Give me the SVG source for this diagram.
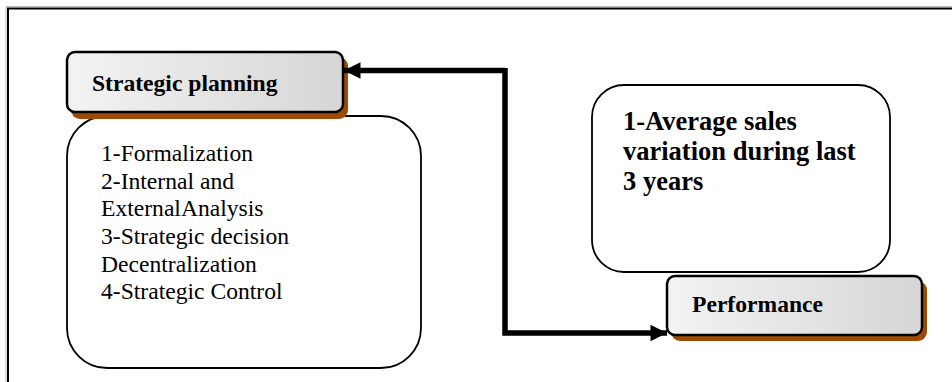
<svg xmlns="http://www.w3.org/2000/svg" width="952" height="382" viewBox="0 0 952 382">
<style>
.t{font-family:"Liberation Serif","Times New Roman",serif;fill:#000}
.b{font-weight:bold}
.box{fill:url(#g);stroke:#000;stroke-width:2.5}
.sh{fill:#9c4a06}
.tb{fill:#fff;stroke:#000;stroke-width:1.8}
.c{fill:none;stroke:#000;stroke-width:5.5}
</style>
<defs>
<linearGradient id="g" x1="0" y1="0" x2="1" y2="0">
<stop offset="0" stop-color="#f3f3f3"/>
<stop offset="1" stop-color="#d6d6d6"/>
</linearGradient>
<marker id="ah" viewBox="0 0 10 10" refX="10" refY="5" markerWidth="3.2" markerHeight="3" orient="auto" markerUnits="strokeWidth">
<path d="M0,0 L10,5 L0,10 z" fill="#000"/>
</marker>
</defs>
<rect width="952" height="382" fill="#fff"/>
<g id="frame">
<path d="M6,382 V6.5 H952" fill="none" stroke="#bbb" stroke-width="1"/>
<path d="M8,382 V8.5 H952" fill="none" stroke="#000" stroke-width="2"/>
</g>
<g id="list">
<rect class="tb" x="67" y="116" width="354" height="252" rx="40"/>
<text class="t" font-size="23.6" x="101" y="161">1-Formalization</text>
<text class="t" font-size="23.6" x="101" y="189">2-Internal and</text>
<text class="t" font-size="23.6" x="101" y="216">ExternalAnalysis</text>
<text class="t" font-size="23.6" x="101" y="244">3-Strategic decision</text>
<text class="t" font-size="23.6" x="101" y="272">Decentralization</text>
<text class="t" font-size="23.6" x="101" y="299">4-Strategic Control</text>
</g>
<g id="strategic">
<rect class="sh" x="71" y="57" width="277" height="62" rx="9"/>
<rect class="box" x="67" y="52" width="276" height="60" rx="8"/>
<text class="t b" font-size="23.6" x="92" y="91">Strategic planning</text>
</g>
<g id="sales">
<rect class="tb" x="592" y="85" width="298" height="187" rx="32"/>
<text class="t b" font-size="26.5" x="623" y="130">1-Average sales</text>
<text class="t b" font-size="26.5" x="623" y="160">variation during last</text>
<text class="t b" font-size="26.5" x="623" y="190">3 years</text>
</g>
<g id="performance">
<rect class="sh" x="671" y="281" width="256" height="60" rx="9"/>
<rect class="box" x="667" y="276" width="255" height="59" rx="8"/>
<text class="t b" font-size="23.6" x="692" y="312">Performance</text>
</g>
<g id="connectors">
<path class="c" d="M505,70.5 H344" marker-end="url(#ah)"/>
<path class="c" d="M505,68 V333 H667" marker-end="url(#ah)"/>
</g>
</svg>
